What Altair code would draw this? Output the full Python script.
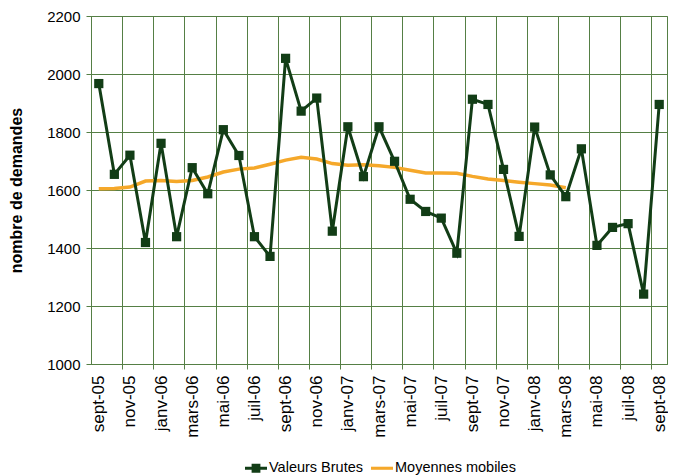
import altair as alt
import pandas as pd

months = ["sept-05", "oct-05", "nov-05", "déc-05", "janv-06", "févr-06", "mars-06", "avr-06",
          "mai-06", "juin-06", "juil-06", "août-06", "sept-06", "oct-06", "nov-06", "déc-06",
          "janv-07", "févr-07", "mars-07", "avr-07", "mai-07", "juin-07", "juil-07", "août-07",
          "sept-07", "oct-07", "nov-07", "déc-07", "janv-08", "févr-08", "mars-08", "avr-08",
          "mai-08", "juin-08", "juil-08", "août-08", "sept-08"]

brutes = [1967, 1654, 1720, 1419, 1761, 1439, 1677, 1587, 1808, 1719, 1439, 1371,
          2054, 1872, 1917, 1458, 1818, 1646, 1818, 1699, 1568, 1526, 1503, 1382,
          1913, 1895, 1671, 1440, 1817, 1652, 1577, 1742, 1409, 1471, 1484, 1241, 1895]

mobiles = [1604, 1605, 1610, 1631, 1633, 1629, 1633, 1645, 1662, 1672, 1676, 1689,
           1703, 1713, 1707, 1691, 1685, 1687, 1684, 1678, 1668, 1659, 1659, 1658,
           1647, 1638, 1633, 1627, 1622, 1617, 1608]

series = ["Valeurs Brutes", "Moyennes mobiles"]

DARK = "#123d16"
ORANGE = "#f5a82a"
GRID = "#557f45"

rows = []
for i, v in enumerate(brutes):
    rows.append({"serie": series[0], "idx": i, "valeur": v})
for i, v in enumerate(mobiles):
    rows.append({"serie": series[1], "idx": i, "valeur": v})
df = pd.DataFrame(rows)

n = len(months)
axis_values = []
for k in range(0, n, 2):
    if k - 0.5 > -0.5:
        axis_values.append(k - 0.5)
    axis_values.append(k)

js_months = "[" + ",".join("'" + m + "'" for m in months) + "]"

W = 576
H = 348

x_enc = alt.X(
    "idx:Q",
    scale=alt.Scale(domain=[-0.5, n - 0.5], nice=False, zero=False),
    axis=alt.Axis(
        values=axis_values,
        labelExpr="datum.value % 1 === 0 ? " + js_months + "[datum.value] : ''",
        labelAngle=270,
        labelFontSize=17,
        labelFont="Liberation Sans",
        labelColor="#000000",
        labelPadding=6,
        labelOverlap=False,
        labelBound=False,
        labelFlush=False,
        grid=True,
        gridColor=GRID,
        gridOpacity={"condition": {"test": "datum.value % 1 !== 0", "value": 1}, "value": 0},
        tickOpacity={"condition": {"test": "datum.value % 1 !== 0", "value": 1}, "value": 0},
        tickColor=GRID,
        tickSize=5,
        domainColor=GRID,
        title=None,
    ),
)

y_enc = alt.Y(
    "valeur:Q",
    scale=alt.Scale(domain=[1000, 2200], nice=False, zero=False),
    axis=alt.Axis(
        values=[1000, 1200, 1400, 1600, 1800, 2000, 2200],
        format="d",
        labelFontSize=15,
        labelFont="Liberation Sans",
        labelColor="#000000",
        labelPadding=6,
        tickSize=5,
        tickColor=GRID,
        domainColor=GRID,
        gridColor=GRID,
        gridOpacity=1,
        title="nombre de demandes",
        titleFontSize=16,
        titleFont="Liberation Sans",
        titleFontWeight="bold",
        titleColor="#000000",
        titlePadding=22,
    ),
)

base = alt.Chart(df).encode(x=x_enc, y=y_enc)

line_mob = base.transform_filter(alt.datum.serie == series[1]).mark_line(
    color=ORANGE, strokeWidth=3.5
)
line_bru = base.transform_filter(alt.datum.serie == series[0]).mark_line(
    color=DARK, strokeWidth=3
)
pts_bru = base.transform_filter(alt.datum.serie == series[0]).mark_point(
    shape="square", filled=True, color=DARK, size=85, opacity=1
)

leg_line_sq = ("M-1,-0.14L1,-0.14L1,0.14L-1,0.14Z "
               "M-0.4,-0.4L0.4,-0.4L0.4,0.4L-0.4,0.4Z")
leg_line = "M-1,-0.14L1,-0.14L1,0.14L-1,0.14Z"

leg = alt.Legend(title=None, orient="none", direction="horizontal",
                 legendX=154, legendY=441)

legend_layer = base.transform_filter("datum.idx < 0").mark_point(filled=True, opacity=1).encode(
    color=alt.Color("serie:N", scale=alt.Scale(domain=series, range=[DARK, ORANGE]), legend=leg),
    shape=alt.Shape("serie:N", scale=alt.Scale(domain=series, range=[leg_line_sq, leg_line]),
                    legend=leg),
)

chart = alt.layer(line_mob, line_bru, pts_bru, legend_layer).properties(
    width=W, height=H,
    padding={"left": 0, "top": 1, "right": 0, "bottom": 0},
).configure_view(
    stroke=GRID, strokeWidth=1
).configure_legend(
    labelFontSize=14.5,
    labelFont="Liberation Sans",
    labelColor="#000000",
    symbolSize=484,
    symbolStrokeWidth=0,
    labelOffset=2,
    columnPadding=7,
)

chart.save("out.html", embed_options={"renderer": "svg", "actions": False})
